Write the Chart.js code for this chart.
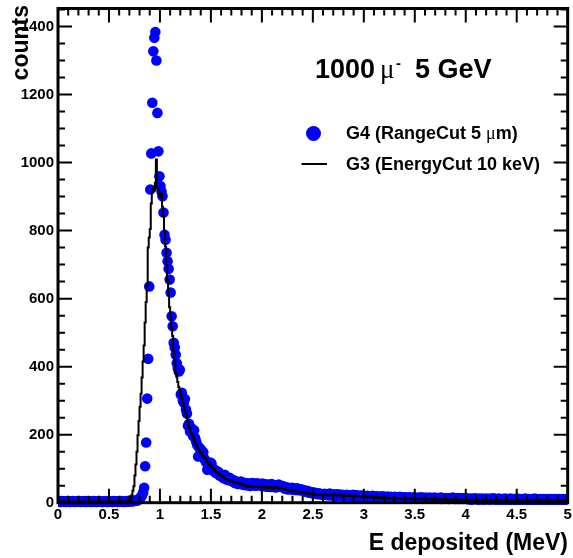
<!DOCTYPE html>
<html>
<head>
<meta charset="utf-8">
<script src="https://cdn.jsdelivr.net/npm/chart.js@4.4.1/dist/chart.umd.min.js"></script>
<style>
  html, body { margin: 0; padding: 0; background: #fff; }
  canvas { display: block; }
</style>
</head>
<body>
<canvas id="edep" width="573" height="558"></canvas>
<script>
// deposited energy, 500 bins of 10 keV between 0 and 5 MeV
const eMin = 0
const eMax = 5
const binWidth = 0.01
const countsMax = 1453

const xTickLabels = ['0', '0.5', '1', '1.5', '2', '2.5', '3', '3.5', '4', '4.5', '5']
const yTickLabels = ['0', '200', '400', '600', '800', '1000', '1200', '1400']

// G4, RangeCut 5 um
const g4Counts = [
  3,4,2,5,3,4,3,2,4,5, 3,2,4,3,5,4,2,3,4,3, 5,3,2,4,3,4,5,2,3,4, 3,4,2,3,5,3,4,2,4,3,
  5,4,3,2,4,3,3,5,2,4, 3,4,3,2,5,4,3,4,2,3, 4,5,3,4,2,3,4,5,3,4, 6,4,5,4,6,5,7,6,
  8,10,13,17,22,30,
  44,107,177,306,423,636,921,1027,1176,1327,1367,1384,1300,1146,1033,
  960,931,915,901,853,788,773,735,710,688,656,618,548,519,470,456,435,410,396,386,391,
  318,323,300,294,305,274,262,226,232,209, 220,205,196,213,190,180,170,136,162,158,
  156,141,148,130,124,118,97,112,104,118, 115,96,100,92,88,94,85,90,80,83,
  77,79,72,82,74,68,71,66,73,68, 64,
  62,66,58,63,60,55,61,57,62,54,
  56,52,58,55,51,57,53,49,55,58, 52,56,50,54,57,51,55,53,49,56,
  52,48,54,50,47,53,51,46,55,49, 50,52,45,51,48,53,47,50,46,49,
  44,41,43,45,39,43,41,40,44,38, 42,40,37,42,39,40,36,39,38,37,
  36,33,32,35,30,32,29,31,28,30, 27,29,26,28,25,27,26,24,25,23,
  26,23,25,22,24,27,21,25,23,22, 24,20,25,23,21,24,22,20,23,21,
  22,19,23,21,20,22,18,21,23,19, 20,22,18,21,19,20,17,21,19,20,
  19,18,20,17,19,16,18,20,17,18, 16,19,17,15,18,16,17,19,15,17,
  16,15,18,14,16,17,15,16,14,17, 15,16,14,15,17,13,16,14,15,16,
  14,15,13,16,14,15,13,14,16,13,
  14,13,15,12,14,16,13,14,12,15, 13,14,12,15,13,12,14,13,15,12,
  13,14,12,13,15,11,14,12,13,14, 12,13,11,14,12,13,15,12,11,13,
  12,14,11,13,12,13,11,12,14,12,
  11,10,12,11,9,12,10,11,13,10, 11,9,12,10,11,12,9,11,10,12,
  10,11,9,12,10,11,13,10,9,11, 10,12,9,11,10,11,9,12,10,11,
  9,10,12,9,11,10,11,9,10,12,
  10,9,11,10,9,11,10,12,9,10, 11,9,10,11,9,10,12,9,11,10,
  9,10,11,9,10,11,9,10,9,11, 10,9,11,10,9,10,11,9,10,9,
  11,10,9,10,11,9,10,9,11
]

// G3, EnergyCut 10 keV
const g3Counts = [
  3,2,4,3,3,2,4,3,2,3, 4,3,2,3,3,4,2,3,3,2, 3,4,3,2,3,3,4,2,3,3, 2,3,4,3,2,3,3,4,3,2,
  3,3,2,4,3,3,2,3,4,3, 3,2,3,4,3,2,3,3,4,3, 2,3,4,3,3,4,3,4,4,5, 5,
  6,10,22,35,48,80,112,150,198,240, 282,320,368,415,462,530,590,640,750,780,
  805,880,912,925,918,941,
  1009,
  925,920,905,898,910,870,842,800,753,700, 655,610,575,548,515,490,445,415,382,370,
  355,340,
  332,318,305,293,285,270,262,250,238,224, 218,205,198,192,185,176,170,164,158,156,
  150,146,140,137,132,132,126,120,118,112, 110,106,101,98,96,93,90,88,88,84,
  82,79,77,75,72,70,69,68,66,64, 63,62,61,60,60,59,59,
  58,57,55,56,53,54,51,52,49,50, 47,49,48,50,46,48,47,49,46,47, 48,45,47,46,
  47,45,48,44,46,47,43,45,46,44, 45,42,44,46,43,44,41,43,44,42,
  41,39,40,38,37,38,36,35,37,34, 35,34,33,34,32,33,31,32,30,31,
  29,30,28,27,29,26,27,26,27,25, 26,24,25,24,25,23,24,25,23,24,
  24,23,25,24,22,24,23,25,22,23, 24,22,23,21,23,22,24,21,22,21,
  22,20,21,22,20,21,19,21,20,19, 20,21,19,20,18,20,19,18,19,17,
  18,17,19,16,17,18,16,17,15,17, 16,15,16,17,15,14,16,15,14,15,
  14,15,13,14,15,13,14,13,12,14, 13,12,14,13,12,13,11,13,12,12,
  11,12,13,11,12,11,12,10,11,12,
  11,10,12,11,10,11,12,10,11,10, 11,9,10,11,10,9,11,10,9,10,
  11,9,10,9,10,8,10,9,10,9, 8,10,9,8,9,10,8,9,8,9,
  10,8,9,8,9,7,9,8,9,8,
  8,9,7,8,9,8,7,9,8,8, 7,8,9,7,8,7,8,9,7,8,
  8,7,8,7,9,8,7,8,7,8, 7,8,7,9,7,8,6,8,7,8,
  7,6,8,7,8,7,6,8,7,7,
  7,6,8,7,6,7,8,6,7,7, 6,7,8,6,7,6,7,6,8,7,
  6,7,6,7,6,8,6,7,6,7, 6,7,5,7,6,7,6,5,7,6,
  7,6,5,6,7,6,5,6,7
]

// markers at bin centres, histogram outline from bin low edges
let g4Points = g4Counts.map((c, i) => ({x: eMin + (i + 0.5) * binWidth, y: c}))
let g3Points = g3Counts.map((c, i) => ({x: eMin + i * binWidth, y: c}))
g3Points.push({x: eMax, y: g3Counts[g3Counts.length - 1]})

const sans = '"Liberation Sans", Arial, sans-serif'
const serif = '"Liberation Serif", "Times New Roman", serif'

// ROOT-like frame: inward ticks on all four sides, thick border, legend and labels
let rootFrame = {
  id: 'rootFrame',
  afterDatasetsDraw(chart) {
    const {ctx, chartArea: area, scales: {x, y}} = chart
    ctx.save()
    ctx.strokeStyle = '#000'
    ctx.lineWidth = 2
    ctx.beginPath()
    for (let i = 0; i <= 50; i++) {
      let px = x.getPixelForValue(eMin + i * 0.1)
      let len = i % 5 === 0 ? 14 : 7
      ctx.moveTo(px, area.bottom)
      ctx.lineTo(px, area.bottom - len)
      ctx.moveTo(px, area.top)
      ctx.lineTo(px, area.top + len)
    }
    for (let v = 0; v <= countsMax; v += 50) {
      let py = y.getPixelForValue(v)
      let len = v % 200 === 0 ? 14 : 7
      ctx.moveTo(area.left, py)
      ctx.lineTo(area.left + len, py)
      ctx.moveTo(area.right, py)
      ctx.lineTo(area.right - len, py)
    }
    ctx.stroke()
    ctx.lineWidth = 3
    ctx.strokeRect(area.left, area.top, area.right - area.left, area.bottom - area.top)
    ctx.restore()
  },
  afterDraw(chart) {
    const ctx = chart.ctx
    ctx.save()
    ctx.fillStyle = '#000'

    // axis titles
    ctx.font = 'bold 23px ' + sans
    ctx.textAlign = 'right'
    ctx.textBaseline = 'alphabetic'
    ctx.fillText('E deposited (MeV)', 568, 550)
    ctx.save()
    ctx.translate(28, 5)
    ctx.rotate(-Math.PI / 2)
    ctx.fillText('counts', 0, 0)
    ctx.restore()

    // beam label
    ctx.textAlign = 'left'
    ctx.font = 'bold 27px ' + sans
    ctx.fillText('1000', 315, 78)
    ctx.font = '27px ' + serif
    ctx.fillText('\u03bc', 380, 78)
    ctx.font = 'bold 15px ' + sans
    ctx.fillText('-', 396, 68)
    ctx.font = 'bold 27px ' + sans
    ctx.fillText('5 GeV', 415, 78)

    // legend
    ctx.fillStyle = '#0000ff'
    ctx.beginPath()
    ctx.arc(313.5, 133.5, 7.5, 0, 2 * Math.PI)
    ctx.fill()
    ctx.strokeStyle = '#000'
    ctx.lineWidth = 2
    ctx.beginPath()
    ctx.moveTo(301.5, 164)
    ctx.lineTo(327, 164)
    ctx.stroke()

    ctx.fillStyle = '#000'
    ctx.textBaseline = 'middle'
    ctx.font = 'bold 18px ' + sans
    let part = 'G4 (RangeCut 5 '
    ctx.fillText(part, 346, 134)
    let px = 346 + ctx.measureText(part).width
    ctx.font = '18px ' + serif
    ctx.fillText('\u03bc', px, 134)
    px += ctx.measureText('\u03bc').width
    ctx.font = 'bold 18px ' + sans
    ctx.fillText('m)', px, 134)
    ctx.fillText('G3 (EnergyCut 10 keV)', 346, 165)
    ctx.restore()
  }
}

Chart.defaults.color = '#000'

let edepchart = new Chart(document.getElementById('edep'), {
  type: 'scatter',
  data: {
    datasets: [
      {
        label: 'G3 (EnergyCut 10 keV)',
        type: 'line',
        data: g3Points,
        stepped: 'after',
        borderColor: '#000000',
        borderWidth: 2,
        pointRadius: 0,
        fill: false,
        order: 0
      },
      {
        label: 'G4 (RangeCut 5 \u03bcm)',
        data: g4Points,
        pointRadius: 5.3,
        pointHoverRadius: 5.3,
        backgroundColor: '#0000ff',
        borderWidth: 0,
        clip: {left: 0, top: 0, right: 0, bottom: 8},
        order: 1
      }
    ]
  },
  options: {
    responsive: false,
    animation: false,
    devicePixelRatio: 1,
    layout: {padding: {top: 8.5, right: 5, left: 0, bottom: 0}},
    plugins: {legend: {display: false}, tooltip: {enabled: false}},
    scales: {
      x: {
        type: 'linear',
        min: eMin,
        max: eMax,
        grid: {display: false, drawTicks: false},
        border: {display: false},
        ticks: {
          stepSize: 0.5,
          autoSkip: false,
          maxRotation: 0,
          padding: 3,
          font: {family: sans, size: 15, weight: 'bold'},
          callback: (v) => xTickLabels[Math.round(v * 2)]
        },
        afterFit(scale) {
          scale.height = 55.3
          scale.paddingLeft = 0
          scale.paddingRight = 0
        }
      },
      y: {
        type: 'linear',
        min: 0,
        max: countsMax,
        grid: {display: false, drawTicks: false},
        border: {display: false},
        ticks: {
          stepSize: 200,
          includeBounds: false,
          autoSkip: false,
          padding: 4,
          font: {family: sans, size: 15, weight: 'bold'},
          callback: (v) => yTickLabels[Math.round(v / 200)]
        },
        afterFit(scale) {
          scale.width = 58
          scale.paddingTop = 0
          scale.paddingBottom = 0
        }
      }
    }
  },
  plugins: [rootFrame]
})
</script>
</body>
</html>
